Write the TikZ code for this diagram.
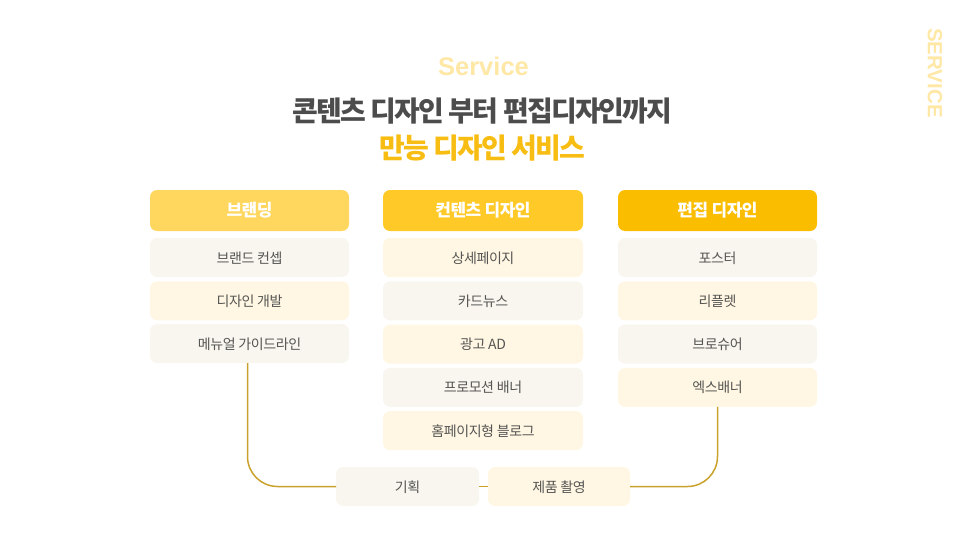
\documentclass[tikz,border=0pt]{standalone}
\usepackage{fontspec}
\usepackage{tikz}
\usetikzlibrary{positioning}
\setmainfont{Noto Sans CJK KR}
\newfontfamily\krtitle[LetterSpace=-6.5,WordSpace=1.0]{Noto Sans CJK KR}
\newfontfamily\krbody[LetterSpace=-3.0]{Noto Sans CJK KR}
\newfontfamily\enhead{Liberation Sans}
\definecolor{headone}{HTML}{FFD75F}
\definecolor{headtwo}{HTML}{FFCA28}
\definecolor{headthree}{HTML}{FABD00}
\definecolor{rowgrey}{HTML}{F8F6EF}
\definecolor{rowcream}{HTML}{FFF7E3}
\definecolor{linkgold}{HTML}{C9A12B}
\definecolor{titlegrey}{HTML}{4C4C4C}
\definecolor{titlegold}{HTML}{F8BD12}
\definecolor{palegold}{HTML}{FFE7A6}
\definecolor{rowtext}{HTML}{555553}

\begin{document}
\begin{tikzpicture}[x=1pt,y=-1pt,node distance=43.3pt,semithick]
  \tikzstyle{every node}=[inner sep=0pt,outer sep=0pt]
  \tikzstyle{head}=[rounded corners=7pt,minimum width=199pt,minimum height=41pt,text=white,font=\krbody\fontsize{17}{20}\selectfont\bfseries]
  \tikzstyle{row}=[rounded corners=7pt,minimum width=199pt,minimum height=39pt,text=rowtext,text height=12.5pt,text depth=1.5pt,font=\krbody\fontsize{14}{18}\selectfont]
  \tikzstyle{grey}=[row,fill=rowgrey]
  \tikzstyle{cream}=[row,fill=rowcream]
  \tikzstyle{link}=[draw=linkgold,line width=1.5pt,rounded corners=30pt]
  \useasboundingbox (0,0) rectangle (966,543);

  \node[text=palegold,font=\enhead\fontsize{25.5}{30}\selectfont\bfseries] (service) at (483.5,66.5) {Service};
  \node[text=titlegrey,font=\krtitle\fontsize{28}{36}\selectfont\bfseries] (title) at (482.5,111.5) {콘텐츠 디자인 부터 편집디자인까지};
  \node[text=titlegold,font=\krtitle\fontsize{28}{36}\selectfont\bfseries] (subtitle) at (482.5,148.5) {만능 디자인 서비스};
  \node[text=palegold,rotate=-90,font=\enhead\fontsize{20.5}{26}\selectfont\bfseries] (side) at (935,73) {SERVICE};

  % first column
  \node[head,fill=headone] (B) at (249.5,210.5) {브랜딩};
  \node[grey,yshift=-3.7pt] (B1) [below of=B] {브랜드 컨셉};
  \node[cream] (B2) [below of=B1] {디자인 개발};
  \node[grey,yshift=.6pt] (B3) [below of=B2] {메뉴얼 가이드라인};

  % second column
  \node[head,fill=headtwo,minimum width=200pt] (C) at (483,210.5) {컨텐츠 디자인};
  \node[cream,yshift=-3.7pt,minimum width=200pt] (C1) [below of=C] {상세페이지};
  \node[grey,minimum width=200pt] (C2) [below of=C1] {카드뉴스};
  \node[cream,minimum width=200pt] (C3) [below of=C2] {광고 AD};
  \node[grey,minimum width=200pt] (C4) [below of=C3] {프로모션 배너};
  \node[cream,minimum width=200pt] (C5) [below of=C4] {홈페이지형 블로그};

  % third column
  \node[head,fill=headthree] (E) at (717.5,210.5) {편집 디자인};
  \node[grey,yshift=-3.7pt] (E1) [below of=E] {포스터};
  \node[cream] (E2) [below of=E1] {리플렛};
  \node[grey] (E3) [below of=E2] {브로슈어};
  \node[cream] (E4) [below of=E3] {엑스배너};

  % bottom row
  \node[grey,minimum width=143pt] (P) at (407.5,486.5) {기획};
  \node[cream,minimum width=142pt] (S) at (559,486.5) {제품 촬영};

  \draw[link] ([xshift=-2pt]B3.south) |- (P.west);
  \draw[link] (P.east) -- (S.west);
  \draw[link] (E4.south) |- (S.east);
\end{tikzpicture}
\end{document}
